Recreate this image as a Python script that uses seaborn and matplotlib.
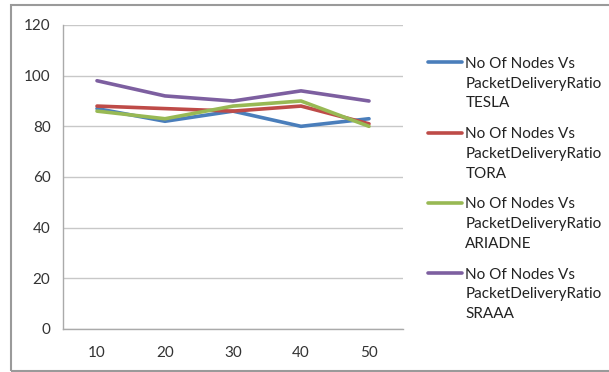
import matplotlib
matplotlib.use("Agg")
import matplotlib.pyplot as plt
from matplotlib.patches import Rectangle
from matplotlib.legend_handler import HandlerLine2D
import pandas as pd
import seaborn as sns

nodes = [10, 20, 30, 40, 50]
tesla = [87, 82, 86, 80, 83]
tora = [88, 87, 86, 88, 81]
ariadne = [86, 83, 88, 90, 80]
sraaa = [98, 92, 90, 94, 90]
series_names = [
    "No Of Nodes Vs\nPacketDeliveryRatio\nTESLA",
    "No Of Nodes Vs\nPacketDeliveryRatio\nTORA",
    "No Of Nodes Vs\nPacketDeliveryRatio\nARIADNE",
    "No Of Nodes Vs\nPacketDeliveryRatio\nSRAAA",
]
colors = ["#4a7ebb", "#be4b48", "#98b954", "#7d5fa0"]
y_ticks = [0, 20, 40, 60, 80, 100, 120]

FS = 11
LINE_SPACING = 1.52


class TopLineHandler(HandlerLine2D):
    """Legend line placed level with the first line of a multi-line label."""

    def create_artists(self, legend, orig_handle, xdescent, ydescent,
                       width, height, fontsize, trans):
        artists = super().create_artists(legend, orig_handle, xdescent, ydescent,
                                         width, height, fontsize, trans)
        shift = fontsize * LINE_SPACING * 0.93
        for a in artists:
            a.set_ydata([y + shift for y in a.get_ydata()])
        return artists


sns.set_theme(style="white")
plt.rcParams["font.family"] = ["Lato", "DejaVu Sans"]

rows = []
for name, vals in zip(series_names, [tesla, tora, ariadne, sraaa]):
    for i, (n, v) in enumerate(zip(nodes, vals)):
        rows.append({"pos": i, "nodes": n, "value": v, "series": name})
df = pd.DataFrame(rows)

fig = plt.figure(figsize=(6.09, 3.72), dpi=100)
ax = fig.add_axes([63 / 609, 1 - 329 / 372, 340 / 609, 304 / 372])

sns.lineplot(data=df, x="pos", y="value", hue="series", palette=colors,
             linewidth=2.6, ax=ax, legend=True)

ax.set_xlim(-0.5, len(nodes) - 0.5)
ax.set_ylim(0, 120)
ax.set_yticks(y_ticks)
ax.set_xticks(range(len(nodes)))
ax.set_xticklabels([str(n) for n in nodes])
ax.set_xticks([i - 0.5 for i in range(len(nodes) + 1)], minor=True)
ax.tick_params(axis="x", which="major", length=0, pad=12, labelsize=FS, labelcolor="#333333")
ax.tick_params(axis="x", which="minor", length=5, width=1, color="#aaaaaa", direction="out")
ax.tick_params(axis="y", length=5, width=1, color="#aaaaaa", direction="out",
               labelsize=FS, labelcolor="#333333", pad=4)
ax.set_xlabel("")
ax.set_ylabel("")
ax.grid(axis="y", color="#c8c8c8", linewidth=1)
ax.set_axisbelow(True)
for side in ["top", "right"]:
    ax.spines[side].set_visible(False)
for side in ["left", "bottom"]:
    ax.spines[side].set_color("#aaaaaa")
    ax.spines[side].set_linewidth(1)

handles, labels = ax.get_legend_handles_labels()
leg = ax.legend(handles, labels, loc="upper left",
                bbox_to_anchor=(428 / 609, 1 - 57 / 372),
                bbox_transform=fig.transFigure, frameon=False, fontsize=FS,
                handlelength=2.2, handletextpad=0.25, labelspacing=1.1,
                borderaxespad=0, borderpad=0,
                handler_map={h: TopLineHandler() for h in handles})
for txt in leg.get_texts():
    txt.set_color("#222222")
    txt.set_linespacing(LINE_SPACING)
for line in leg.get_lines():
    line.set_linewidth(2.6)

fig.patches.append(Rectangle((11 / 609, 1 - 371 / 372), 0.999, 366 / 372,
                             transform=fig.transFigure, fill=False,
                             edgecolor="#9a9a9a", linewidth=1.5))

fig.savefig("out.png", dpi=100, facecolor="white")
